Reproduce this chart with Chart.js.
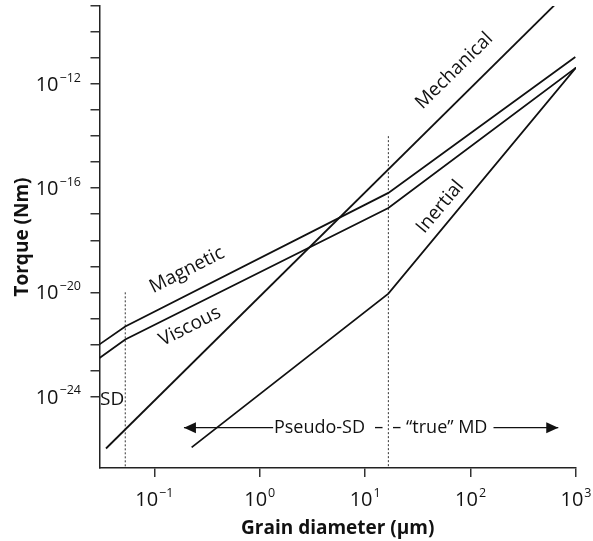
<!DOCTYPE html>
<html>
<head>
<meta charset="utf-8">
<script src="https://cdn.jsdelivr.net/npm/chart.js@4.4.1/dist/chart.umd.min.js"></script>
<style>
  html, body { margin: 0; padding: 0; background: #fff; }
  #wrap { width: 593px; height: 541px; position: relative; }
</style>
</head>
<body>
<div id="wrap"><canvas id="torqueChart"></canvas></div>
<script>
// grain diameter (um) vs torque (N m)
const mechanicalD = [0.0348, 622];
const mechanicalT = [1.0e-26, 1.06e-9];

const magneticD = [0.0302, 0.053, 16.6, 985];
const magneticT = [1.0e-22, 4.9e-22, 6.6e-17, 1.1e-11];

const viscousD = [0.0302, 0.053, 16.6, 1000];
const viscousT = [3.0e-23, 1.55e-22, 1.74e-17, 4.3e-12];

const inertialD = [0.226, 16.6, 1000];
const inertialT = [1.1e-26, 8.9e-21, 4.3e-12];

// domain limits (dotted verticals)
const sdLimitD = 0.053;
const sdLimitTop = 1e-20;
const mdLimitD = 16.6;
const mdLimitTop = 1e-14;

// arrows along the bottom
const arrowT = 6.3e-26;
const leftArrowD = [0.191, 1.34];
const rightArrowD = [679, 165];

// axes
const xMin = 0.0302, xMax = 1000;
const yMin = 1.78e-27, yMax = 1e-9;
const xTickExps = [-1, 0, 1, 2, 3];
const yTickExps = [-24, -23, -22, -21, -20, -19, -18, -17, -16, -15, -14, -13, -12, -11, -10, -9];
const yLabelExps = [-24, -20, -16, -12];

const FONT = "'Open Sans', 'Noto Sans', sans-serif";
const INK = '#111';

const pts = (ds, ts) => ds.map((d, i) => ({ x: d, y: ts[i] }));

// text placed on the plot (in data coords)
const notes = [
  { text: 'Magnetic', d: 0.204, t: 7.1e-20, angle: -26.8 },
  { text: 'Viscous', d: 0.218, t: 4.9e-22, angle: -26.8 },
  { text: 'Mechanical', d: 70, t: 3.2e-12, angle: -44.5 },
  { text: 'Inertial', d: 51.5, t: 1.9e-17, angle: -50 },
  { text: 'SD', d: 0.0398, t: 7.4e-25, angle: 0 }
];

const supLabel = (ctx, exp, px, py, align) => {
  const base = '10';
  const sup = (exp < 0 ? '\u2212' : '') + Math.abs(exp);
  ctx.font = `20px ${FONT}`;
  const wBase = ctx.measureText(base).width;
  ctx.font = `12.5px ${FONT}`;
  const wSup = ctx.measureText(sup).width;
  const total = wBase + wSup + 1;
  const left = align === 'right' ? px - total : px - total / 2;
  ctx.textAlign = 'left';
  ctx.textBaseline = 'alphabetic';
  ctx.font = `20px ${FONT}`;
  ctx.fillText(base, left, py + 7.1);
  ctx.font = `12.5px ${FONT}`;
  ctx.fillText(sup, left + wBase + 1, py - 2.5);
};

const annotate = {
  id: 'annotate',
  afterDraw(chart) {
    const { ctx, scales: { x, y }, chartArea } = chart;
    ctx.save();
    ctx.fillStyle = INK;

    // curve names
    ctx.font = `19px ${FONT}`;
    ctx.textAlign = 'center';
    ctx.textBaseline = 'middle';
    notes.forEach((n) => {
      ctx.save();
      ctx.translate(x.getPixelForValue(n.d), y.getPixelForValue(n.t));
      ctx.rotate(n.angle * Math.PI / 180);
      ctx.fillText(n.text, 0, 0);
      ctx.restore();
    });

    // arrowheads
    [leftArrowD, rightArrowD].forEach((a) => {
      const tx = x.getPixelForValue(a[0]);
      const bx = x.getPixelForValue(a[1]);
      const ty = y.getPixelForValue(arrowT);
      const dir = Math.sign(tx - bx);
      ctx.beginPath();
      ctx.moveTo(tx, ty);
      ctx.lineTo(tx - dir * 12, ty - 5.5);
      ctx.lineTo(tx - dir * 12, ty + 5.5);
      ctx.closePath();
      ctx.fill();
    });

    // domain text around the MD limit
    const mx = x.getPixelForValue(mdLimitD);
    const ay = y.getPixelForValue(arrowT);
    ctx.font = `18px ${FONT}`;
    ctx.textBaseline = 'middle';
    ctx.textAlign = 'right';
    ctx.fillText('Pseudo-SD  \u2013', mx - 5, ay);
    ctx.textAlign = 'left';
    ctx.fillText('\u2013 \u201Ctrue\u201D MD', mx + 4, ay);

    // tick labels as powers of ten
    xTickExps.forEach((e) => supLabel(ctx, e, x.getPixelForValue(Math.pow(10, e)), 499, 'center'));
    yLabelExps.forEach((e) => supLabel(ctx, e, chartArea.left - 18.5, y.getPixelForValue(Math.pow(10, e)), 'right'));

    ctx.restore();
  }
};

const lineSet = (data, extra) => Object.assign({
  data,
  showLine: true,
  borderColor: INK,
  borderWidth: 1.8,
  pointRadius: 0,
  tension: 0,
  fill: false
}, extra || {});

const axisCommon = {
  type: 'logarithmic',
  border: { display: true, color: '#222', width: 1.5 },
  grid: { drawOnChartArea: false, drawTicks: true, tickLength: 9, color: '#333', lineWidth: 1.5 },
  ticks: { display: false },
  title: { display: true, color: INK, font: { family: FONT, size: 19, weight: 'bold', lineHeight: 1.2 } }
};

new Chart(document.getElementById('torqueChart'), {
  type: 'scatter',
  data: {
    datasets: [
      lineSet(pts(mechanicalD, mechanicalT)),
      lineSet(pts(magneticD, magneticT)),
      lineSet(pts(viscousD, viscousT)),
      lineSet(pts(inertialD, inertialT)),
      lineSet([{ x: sdLimitD, y: sdLimitTop }, { x: sdLimitD, y: yMin }], { borderWidth: 1, borderDash: [2, 2], borderColor: '#333' }),
      lineSet([{ x: mdLimitD, y: mdLimitTop }, { x: mdLimitD, y: yMin }], { borderWidth: 1, borderDash: [2, 2], borderColor: '#333' }),
      lineSet([{ x: leftArrowD[0], y: arrowT }, { x: leftArrowD[1], y: arrowT }], { borderWidth: 1.2 }),
      lineSet([{ x: rightArrowD[0], y: arrowT }, { x: rightArrowD[1], y: arrowT }], { borderWidth: 1.2 })
    ]
  },
  options: {
    responsive: true,
    maintainAspectRatio: false,
    animation: false,
    layout: { padding: { top: 6, right: 17, bottom: 0, left: 0 } },
    plugins: { legend: { display: false }, tooltip: { enabled: false } },
    scales: {
      x: Object.assign({}, axisCommon, {
        position: 'bottom',
        min: xMin,
        max: xMax,
        afterBuildTicks: (s) => { s.ticks = xTickExps.map((e) => ({ value: Math.pow(10, e) })); },
        afterFit: (s) => { s.height = 73; },
        title: Object.assign({}, axisCommon.title, { text: 'Grain diameter (\u00B5m)', padding: { top: 0, bottom: 1 } })
      }),
      y: Object.assign({}, axisCommon, {
        position: 'left',
        min: yMin,
        max: yMax,
        afterBuildTicks: (s) => { s.ticks = yTickExps.map((e) => ({ value: Math.pow(10, e) })); },
        afterFit: (s) => { s.width = 99.5; },
        title: Object.assign({}, axisCommon.title, { text: 'Torque (Nm)', padding: { top: 11, bottom: 0 } })
      })
    }
  },
  plugins: [annotate]
});
</script>
</body>
</html>
